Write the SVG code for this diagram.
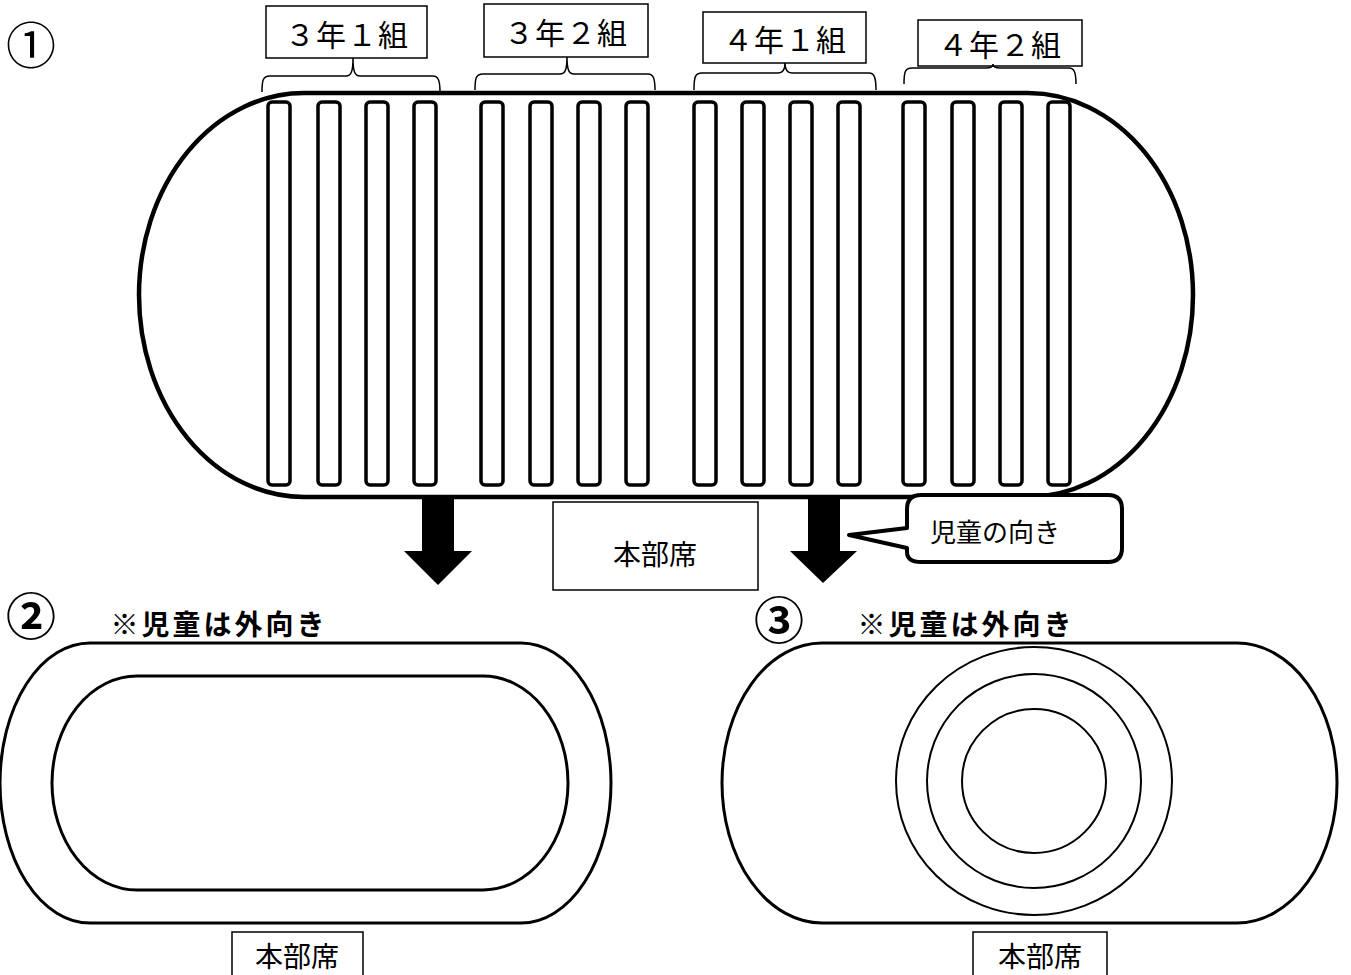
<svg xmlns="http://www.w3.org/2000/svg" width="1351" height="975" viewBox="0 0 1351 975">
<style>
text{font-family:"Noto Sans CJK JP","Noto Sans",sans-serif;fill:#000;text-anchor:middle;dominant-baseline:central}
.lbl{font-size:30px;letter-spacing:1px}
.box{fill:#fff;stroke:#000;stroke-width:1.5}
.brace{fill:none;stroke:#000;stroke-width:1.5}
.track{fill:#fff;stroke:#000;stroke-width:4.5}
.row{fill:#fff;stroke:#000;stroke-width:3.5}
.oval{fill:none;stroke:#000;stroke-width:3}
.ring{fill:none;stroke:#000;stroke-width:2}
.note{font-size:28px;font-weight:bold;letter-spacing:3px}
.num{font-size:50px}
.hq{font-size:28px}
</style>
<rect width="1351" height="975" fill="#fff"/>

<g id="section1">
  <text class="num" x="31" y="42">①</text>
  <rect class="track" x="139" y="93" width="1054" height="404" rx="165" ry="202"/>
  <g id="rows">
    <rect class="row" x="268" y="102" width="22" height="383" rx="4"/>
    <rect class="row" x="318" y="102" width="22" height="383" rx="4"/>
    <rect class="row" x="366" y="102" width="22" height="383" rx="4"/>
    <rect class="row" x="414" y="102" width="22" height="383" rx="4"/>
    <rect class="row" x="481" y="102" width="22" height="383" rx="4"/>
    <rect class="row" x="530" y="102" width="22" height="383" rx="4"/>
    <rect class="row" x="578" y="102" width="22" height="383" rx="4"/>
    <rect class="row" x="626" y="102" width="22" height="383" rx="4"/>
    <rect class="row" x="694" y="102" width="22" height="383" rx="4"/>
    <rect class="row" x="742" y="102" width="22" height="383" rx="4"/>
    <rect class="row" x="790" y="102" width="22" height="383" rx="4"/>
    <rect class="row" x="838" y="102" width="22" height="383" rx="4"/>
    <rect class="row" x="903" y="102" width="22" height="383" rx="4"/>
    <rect class="row" x="952" y="102" width="22" height="383" rx="4"/>
    <rect class="row" x="1000" y="102" width="22" height="383" rx="4"/>
    <rect class="row" x="1048" y="102" width="22" height="383" rx="4"/>
  </g>
</g>

<g id="label-3-1">
  <rect class="box" x="266" y="6" width="161" height="52"/>
  <text class="lbl" x="347" y="33">３年１組</text>
  <path class="brace" d="M262,92 C262,80 263,76 270,76 L346,76 C351,76 353,72 353,58 C353,72 355,76 360,76 L433,76 C438,76 440,80 440,92"/>
</g>
<g id="label-3-2">
  <rect class="box" x="484" y="4" width="164" height="53"/>
  <text class="lbl" x="566" y="31">３年２組</text>
  <path class="brace" d="M475,90 C475,78 476,74 483,74 L560,74 C565,74 567,70 567,57 C567,70 569,74 574,74 L648,74 C653,74 655,78 655,90"/>
</g>
<g id="label-4-1">
  <rect class="box" x="703" y="12" width="163" height="51"/>
  <text class="lbl" x="785" y="38">４年１組</text>
  <path class="brace" d="M694,90 C694,77 695,73 702,73 L778,73 C783,73 785,70 785,63 C785,70 787,73 792,73 L869,73 C874,73 876,77 876,90"/>
</g>
<g id="label-4-2">
  <rect class="box" x="918" y="20" width="164" height="46"/>
  <text class="lbl" x="1000" y="43">４年２組</text>
  <path class="brace" d="M904,84 C904,72 905,68 912,68 L986,68 C991,68 993,67 993,64 C993,67 995,68 1000,68 L1069,68 C1074,68 1076,72 1076,84"/>
</g>

<g id="connectors">
  <polygon points="422,497 454,497 454,551 472,551 438,585 404,551 422,551" fill="#000"/>
  <polygon points="808,497 840,497 840,551 857,551 823,583 790,551 808,551" fill="#000"/>
</g>

<g id="hq-top">
  <rect class="box" x="553" y="502" width="205" height="88"/>
  <text class="hq" x="655" y="553">本部席</text>
</g>

<g id="bubble">
  <path d="M921,495 H1108 Q1122,495 1122,509 V548 Q1122,562 1108,562 H921 Q907,562 907,552 V548 L849,535 L907,528 V509 Q907,495 921,495 Z" fill="#fff" stroke="#000" stroke-width="4" stroke-linejoin="round"/>
  <text x="995" y="530" style="font-size:26px">児童の向き</text>
</g>

<g id="section2">
  <text class="num" x="31" y="613" style="font-weight:bold">②</text>
  <text class="note" x="219" y="623">※児童は外向き</text>
  <rect class="oval" x="0" y="643" width="611" height="280" rx="90" ry="140"/>
  <rect class="oval" x="52" y="676" width="516" height="214" rx="85" ry="107"/>
  <g id="hq-left">
    <rect class="box" x="232" y="932" width="131" height="50"/>
    <text class="hq" x="297" y="955">本部席</text>
  </g>
</g>

<g id="section3">
  <text class="num" x="779" y="617" style="font-weight:bold">③</text>
  <text class="note" x="966" y="623">※児童は外向き</text>
  <rect class="oval" x="722" y="643" width="615" height="280" rx="100" ry="140"/>
  <ellipse class="ring" cx="1034" cy="781" rx="138" ry="134"/>
  <ellipse class="ring" cx="1034" cy="781" rx="107" ry="107"/>
  <ellipse class="ring" cx="1034" cy="781" rx="72" ry="72"/>
  <g id="hq-right">
    <rect class="box" x="973" y="932" width="134" height="50"/>
    <text class="hq" x="1040" y="955">本部席</text>
  </g>
</g>
</svg>
